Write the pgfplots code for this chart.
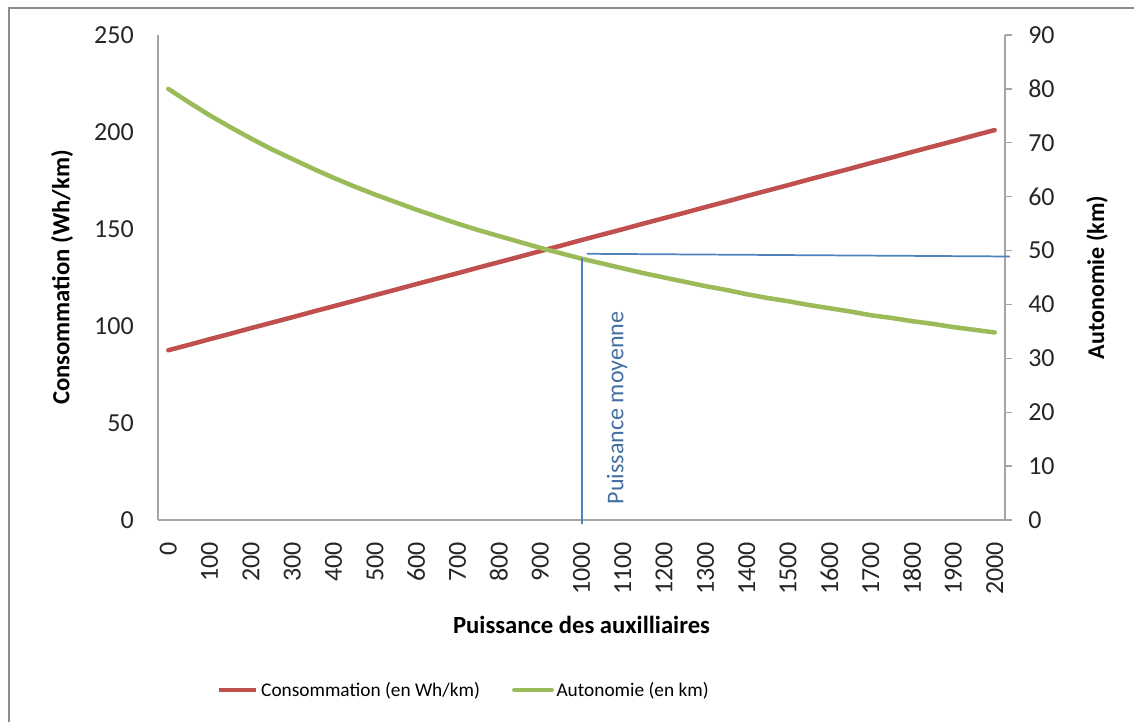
\documentclass[border=0pt]{standalone}
\usepackage{fontspec}
\setmainfont{Carlito}
\usepackage{pgfplots}
\usepackage{pgfplotstable}
\pgfplotsset{compat=1.18}

\definecolor{cred}{HTML}{C0504D}
\definecolor{cgreen}{HTML}{9BBB59}
\definecolor{cblue}{HTML}{4F81BD}
\definecolor{caxis}{RGB}{165,165,165}
\definecolor{cframe}{RGB}{140,140,140}

\pgfplotstableread{
x conso
0 87.5
50 90.3
100 93.2
150 96.0
200 98.9
250 101.7
300 104.5
350 107.4
400 110.2
450 113.0
500 115.9
550 118.7
600 121.6
650 124.4
700 127.2
750 130.1
800 132.9
850 135.7
900 138.6
950 141.4
1000 144.3
1050 147.1
1100 149.9
1150 152.8
1200 155.6
1250 158.4
1300 161.3
1350 164.1
1400 167.0
1450 169.8
1500 172.6
1550 175.5
1600 178.3
1650 181.1
1700 184.0
1750 186.8
1800 189.7
1850 192.5
1900 195.3
1950 198.2
2000 201.0
}\conso

\pgfplotstableread{
x auto
0 80.0
50 77.5
100 75.1
150 72.9
200 70.8
250 68.8
300 67.0
350 65.2
400 63.5
450 61.9
500 60.4
550 59.0
600 57.6
650 56.3
700 55.0
750 53.8
800 52.7
850 51.6
900 50.5
950 49.5
1000 48.5
1050 47.6
1100 46.7
1150 45.8
1200 45.0
1250 44.2
1300 43.4
1350 42.7
1400 41.9
1450 41.2
1500 40.6
1550 39.9
1600 39.3
1650 38.7
1700 38.0
1750 37.5
1800 36.9
1850 36.4
1900 35.8
1950 35.3
2000 34.8
}\autonomie

\begin{document}
\begin{tikzpicture}
\path[use as bounding box] (0,0) rectangle (850.5pt,541.5pt);
\draw[cframe, line width=1.5pt] (6.75pt,0) -- (6.75pt,535.5pt) -- (850.5pt,535.5pt);

\begin{axis}[
  at={(118.5pt,151.5pt)}, anchor=south west,
  scale only axis, width=635.25pt, height=363.75pt,
  xmin=-25, xmax=2025, ymin=0, ymax=250,
  axis x line*=bottom, axis y line*=left,
  axis line style={caxis, line width=1pt, -},
  xtick={0,100,...,2000}, ytick={0,50,...,250},
  major tick length=0pt, tick style={draw=none},
  /pgf/number format/1000 sep={},
  /pgf/number format/assume math mode=true,
  ticklabel style={font=\fontsize{19.5}{22}\selectfont, text=black!85, inner sep=0pt},
  xticklabel style={rotate=90, anchor=east},
  xticklabel shift=16.5pt,
  yticklabel shift=18pt,
  xlabel={Puissance des auxilliaires},
  ylabel={Consommation (Wh/km)},
  label style={font=\bfseries\fontsize{18.5}{21}\selectfont},
  xlabel style={at={(axis description cs:0.5,-0.2165)}, anchor=center},
  ylabel style={at={(axis description cs:-0.1133,0.5)}, anchor=center},
]
\addplot[cred, line width=3.4pt, line join=round, line cap=round] table[x=x, y=conso] {\conso};
\end{axis}

\begin{axis}[
  at={(118.5pt,151.5pt)}, anchor=south west,
  scale only axis, width=635.25pt, height=363.75pt,
  xmin=-25, xmax=2025, ymin=0, ymax=90,
  axis x line=none, axis y line*=right,
  axis line style={caxis, line width=1pt, -},
  ytick={0,10,...,90},
  tick align=outside, major tick length=5.25pt,
  ytick style={caxis, line width=1pt},
  /pgf/number format/assume math mode=true,
  ticklabel style={font=\fontsize{19.5}{22}\selectfont, text=black!85, inner sep=0pt},
  yticklabel shift=12pt,
  ylabel={Autonomie (km)},
  label style={font=\bfseries\fontsize{18}{21}\selectfont},
  ylabel style={at={(axis description cs:1.1086,0.5)}, anchor=center},
  clip=false,
  legend style={draw=none, fill=none, at={(axis description cs:0.3613,-0.3505)}, anchor=center,
    font=\fontsize{14.5}{17}\selectfont, legend columns=2,
    /tikz/every even column/.append style={column sep=22pt}},
  legend image code/.code={\draw[#1] (0pt,0pt) -- (28pt,0pt);},
]
\addlegendimage{cred, line width=3.4pt}
\addlegendentry{Consommation (en Wh/km)}
\addplot[cgreen, line width=3.4pt, line join=round, line cap=round] table[x=x, y=auto] {\autonomie};
\addlegendentry{Autonomie (en km)}
\addplot[cblue, line width=1.3pt, forget plot] coordinates {(1002,-0.8) (1002,48.6)};
\addplot[cblue, line width=1.3pt, forget plot] coordinates {(1013,49.4) (2037,48.9)};
\node[rotate=90, text=cblue!85!black, font=\fontsize{18}{21}\selectfont, anchor=center] at (axis cs:1086,20.8) {Puissance moyenne};
\end{axis}
\end{tikzpicture}
\end{document}
